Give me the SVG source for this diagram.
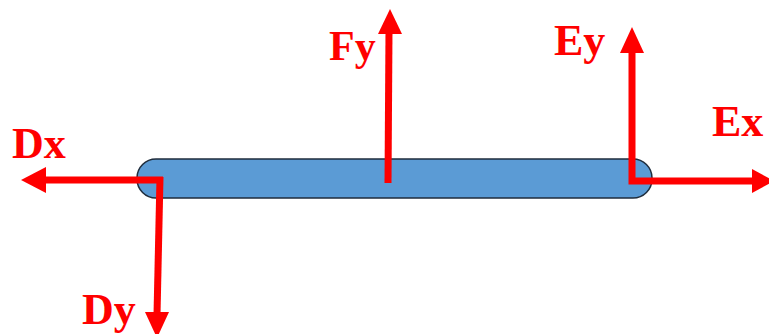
<svg xmlns="http://www.w3.org/2000/svg" width="769" height="334" viewBox="0 0 769 334">
<style>
.lbl{font-family:"Liberation Serif","Times New Roman",serif;font-weight:bold;fill:#ff0000;}
.shaft{stroke:#ff0000;stroke-width:7;fill:none;stroke-linejoin:miter;}
.head{fill:#ff0000;}
</style>
<rect width="769" height="334" fill="#ffffff"/>
<g id="beam">
<rect x="137" y="159" width="515" height="39" rx="19" ry="19" fill="#5b9bd5" stroke="#1f2d3d" stroke-width="1.5"/>
</g>
<g id="connectors">
<path class="shaft" d="M163 180 L45 180"/>
<polygon class="head" points="21,180 46,167 46,193"/>
<path class="shaft" d="M160 177 L157 315"/>
<polygon class="head" points="157,338 145,312 169,312"/>
<path class="shaft" d="M388 183 L389 31"/>
<polygon class="head" points="390,9 378,34 402,34"/>
<path class="shaft" d="M632 50 L632 181 L755 181"/>
<polygon class="head" points="632,27 620,53 644,53"/>
<polygon class="head" points="774,181 752,169 752,193"/>
</g>
<g id="label-Dx"><text class="lbl" font-size="44" x="12" y="158">Dx</text></g>
<g id="label-Dy"><text class="lbl" font-size="44" x="82" y="324">Dy</text></g>
<g id="label-Fy"><text class="lbl" font-size="42" x="329" y="60">Fy</text></g>
<g id="label-Ey"><text class="lbl" font-size="44" x="554" y="55">Ey</text></g>
<g id="label-Ex"><text class="lbl" font-size="44" x="712" y="136">Ex</text></g>
</svg>
